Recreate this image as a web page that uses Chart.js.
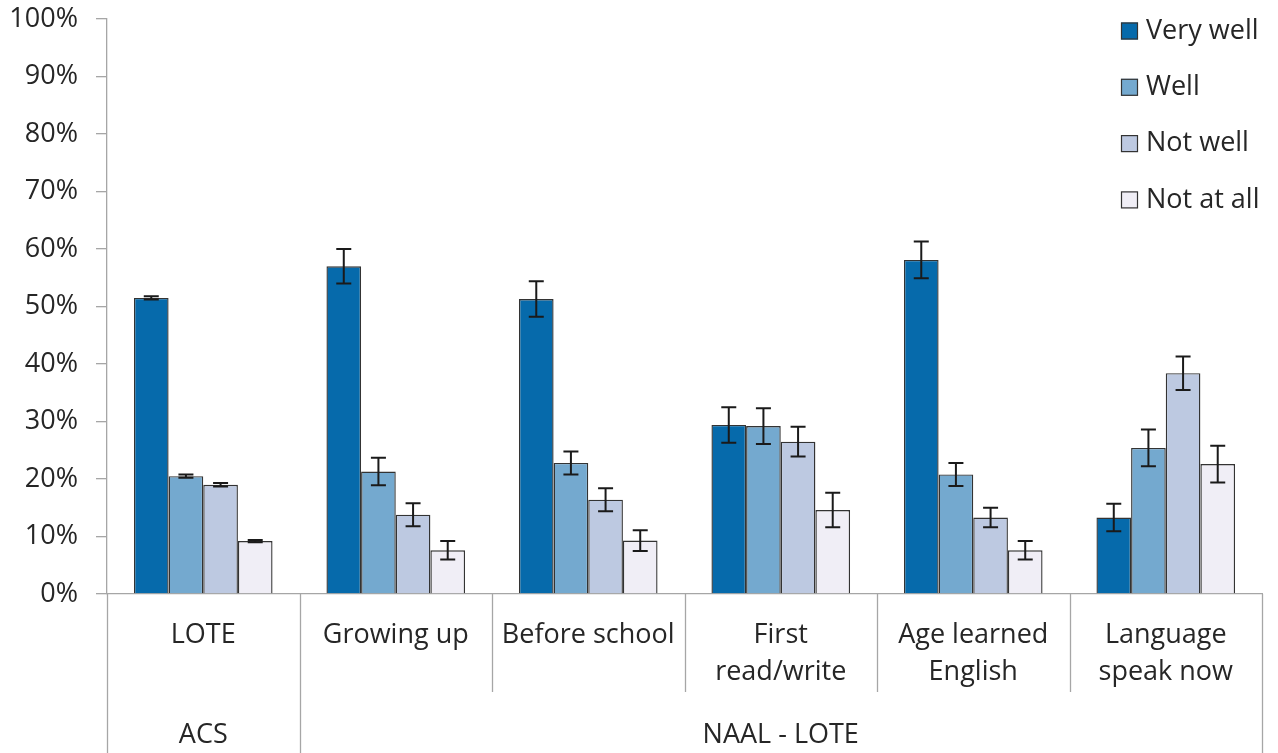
<!DOCTYPE html>
<html lang="en">
<head>
  <meta charset="UTF-8" />
  <title>English proficiency by language background</title>
  <script src="https://cdn.jsdelivr.net/npm/chart.js"></script>
  <style>
    html, body { margin: 0; padding: 0; background: #fff; }
    #wrap { width: 1278px; height: 753px; position: relative; }
  </style>
</head>
<body>
  <div id="wrap"><canvas id="chart"></canvas></div>

  <script>
    // data (percent)
    const categories = ["LOTE", "Growing up", "Before school", ["First", "read/write"], ["Age learned", "English"], ["Language", "speak now"]];
    const groups = [
      { label: "ACS", from: 0, to: 0 },
      { label: "NAAL - LOTE", from: 1, to: 5 }
    ];
    const seriesNames = ["Very well", "Well", "Not well", "Not at all"];
    const veryWell = [51.5, 57.0, 51.3, 29.4, 58.1, 13.3];
    const well     = [20.5, 21.3, 22.8, 29.2, 20.8, 25.4];
    const notWell  = [19.0, 13.8, 16.4, 26.5, 13.3, 38.4];
    const notAtAll = [9.2, 7.6, 9.3, 14.6, 7.6, 22.6];
    // error bar half-widths (percent points)
    const errVeryWell = [0.3, 3.0, 3.1, 3.1, 3.2, 2.4];
    const errWell     = [0.3, 2.4, 2.0, 3.1, 2.0, 3.2];
    const errNotWell  = [0.3, 2.0, 2.0, 2.6, 1.7, 2.9];
    const errNotAtAll = [0.2, 1.6, 1.8, 3.0, 1.6, 3.2];
    const yTicks = [0, 10, 20, 30, 40, 50, 60, 70, 80, 90, 100];

    const colors = ["#066aab", "#74a9cf", "#bdc9e1", "#f0eef6"];
    const values = [veryWell, well, notWell, notAtAll];
    const errors = [errVeryWell, errWell, errNotWell, errNotAtAll];

    const FONT = "'Open Sans', sans-serif";
    const SIZE = 27;
    const TEXT = "#262626";
    const AXIS = "#a6a6a6";

    // error bars drawn through the y scale
    const errorBars = {
      id: "errorBars",
      afterDatasetsDraw(chart) {
        const ctx = chart.ctx;
        const y = chart.scales.y;
        ctx.save();
        ctx.strokeStyle = "#1a1a1a";
        ctx.lineWidth = 2;
        chart.data.datasets.forEach((ds, di) => {
          const meta = chart.getDatasetMeta(di);
          meta.data.forEach((bar, i) => {
            const v = ds.data[i], e = errors[di][i];
            const top = y.getPixelForValue(v + e);
            const bot = y.getPixelForValue(v - e);
            const x = bar.x;
            ctx.beginPath();
            ctx.moveTo(x, top); ctx.lineTo(x, bot);
            ctx.moveTo(x - 7.5, top); ctx.lineTo(x + 7.5, top);
            ctx.moveTo(x - 7.5, bot); ctx.lineTo(x + 7.5, bot);
            ctx.stroke();
          });
        });
        ctx.restore();
      }
    };

    // category separators and the second label row
    const groupAxis = {
      id: "groupAxis",
      afterDraw(chart) {
        const ctx = chart.ctx;
        const x = chart.scales.x;
        const area = chart.chartArea;
        const step = x.getPixelForValue(1) - x.getPixelForValue(0);
        const bottom = chart.height;
        ctx.save();
        ctx.strokeStyle = AXIS;
        ctx.lineWidth = 1.3;
        const groupEdges = new Set();
        groups.forEach(g => { groupEdges.add(g.from); groupEdges.add(g.to + 1); });
        for (let i = 0; i <= categories.length; i++) {
          const px = Math.round(x.getPixelForValue(i) - step / 2) + 0.5;
          const full = groupEdges.has(i);
          ctx.beginPath();
          ctx.moveTo(px, area.bottom);
          ctx.lineTo(px, full ? bottom : area.bottom + 98);
          ctx.stroke();
        }
        ctx.fillStyle = TEXT;
        ctx.font = SIZE + "px " + FONT;
        ctx.textAlign = "center";
        ctx.textBaseline = "middle";
        groups.forEach(g => {
          const cx = (x.getPixelForValue(g.from) + x.getPixelForValue(g.to)) / 2;
          ctx.fillText(g.label, cx, 735);
        });
        ctx.restore();
      }
    };

    // legend inside the plot, upper right
    const innerLegend = {
      id: "innerLegend",
      afterDraw(chart) {
        const ctx = chart.ctx;
        ctx.save();
        ctx.font = SIZE + "px " + FONT;
        ctx.textBaseline = "middle";
        ctx.textAlign = "left";
        seriesNames.forEach((name, i) => {
          const cy = 31 + i * 56.3;
          ctx.fillStyle = colors[i];
          ctx.fillRect(1121, cy - 8.5, 17, 17);
          ctx.strokeStyle = "#333";
          ctx.lineWidth = 1.2;
          ctx.strokeRect(1121.5, cy - 8, 16, 16);
          ctx.fillStyle = TEXT;
          ctx.fillText(name, 1146, cy);
        });
        ctx.restore();
      }
    };

    new Chart(document.getElementById("chart"), {
      type: "bar",
      data: {
        labels: categories,
        datasets: seriesNames.map((name, i) => ({
          label: name,
          data: values[i],
          backgroundColor: colors[i],
          borderColor: "#333",
          borderWidth: 1.4,
          categoryPercentage: 0.72,
          barPercentage: 1.0
        }))
      },
      options: {
        responsive: true,
        maintainAspectRatio: false,
        animation: false,
        layout: { padding: { top: 19, right: 16, left: 0, bottom: 0 } },
        plugins: {
          legend: { display: false },
          tooltip: { enabled: false }
        },
        scales: {
          x: {
            grid: { display: false, drawTicks: false },
            border: { display: true, color: AXIS, width: 1.3 },
            ticks: {
              color: TEXT,
              font: { family: FONT, size: SIZE, lineHeight: 1.4 },
              padding: 22,
              maxRotation: 0,
              autoSkip: false
            },
            afterFit(scale) { scale.height = 159; }
          },
          y: {
            min: 0,
            max: 100,
            afterBuildTicks(scale) { scale.ticks = yTicks.map(v => ({ value: v })); },
            grid: { drawOnChartArea: false, drawTicks: true, tickLength: 11, color: AXIS, lineWidth: 1.3 },
            border: { display: true, color: AXIS, width: 1.3 },
            ticks: {
              color: TEXT,
              font: { family: FONT, size: SIZE },
              padding: 18,
              callback: v => v + "%"
            },
            afterFit(scale) { scale.width = 107; scale.paddingTop = 0; scale.paddingBottom = 0; }
          }
        }
      },
      plugins: [errorBars, groupAxis, innerLegend]
    });
  </script>
</body>
</html>
